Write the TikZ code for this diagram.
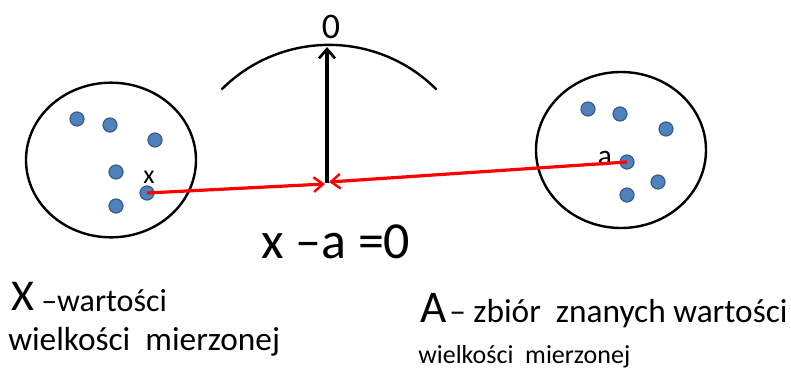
\documentclass[tikz,border=0pt]{standalone}
\usepackage{fontspec}
\setmainfont{Carlito}
\usetikzlibrary{arrows.meta,shapes.geometric}
\definecolor{dotfill}{HTML}{4F81BD}
\definecolor{dotline}{HTML}{385D8A}
\definecolor{linered}{HTML}{FF0000}
\newcommand{\fs}[1]{\fontsize{#1}{#1}\selectfont}
\begin{document}
\begin{tikzpicture}[x=0.75pt,y=-0.75pt,
  setshape/.style={ellipse,draw=black,line width=1.8pt,inner sep=0pt,minimum width=127.5pt,minimum height=116pt},
  dotnode/.style={circle,fill=dotfill,draw=dotline,line width=0.9pt,inner sep=0pt,minimum size=10.5pt},
  redarrow/.style={draw=linered,line width=2.4pt,-{Straight Barb[length=7pt,width=11pt,line width=1.8pt]}},
  blackarrow/.style={draw=black,line width=2.6pt,-{Straight Barb[length=7pt,width=12pt,line width=2pt]}},
  txt/.style={inner sep=0pt,anchor=base west}]
\useasboundingbox (0,0) rectangle (791,372);
\fill[white] (0,0) rectangle (791,372);
% sets
\node[setshape] (setX) at (111,160) {};
\node[setshape,minimum height=117pt] (setA) at (621,150) {};
% arc
\draw[line width=1.8pt] (221.5,89.5) .. controls (281,30) and (377,30) .. (436.5,89.5);
% dots left
\node[dotnode] (l1) at (77,119) {};
\node[dotnode] (l2) at (110,125) {};
\node[dotnode] (l3) at (155,140) {};
\node[dotnode] (l4) at (116,172) {};
\node[dotnode] (lx) at (147,193) {};
\node[dotnode] (l6) at (116,206) {};
% dots right
\node[dotnode] (r1) at (588,109) {};
\node[dotnode] (r2) at (620,114) {};
\node[dotnode] (r3) at (666,129) {};
\node[dotnode] (ra) at (627,162) {};
\node[dotnode] (r5) at (658,182) {};
\node[dotnode] (r6) at (627,195) {};
% labels
\node[inner sep=0pt,anchor=base] (labx) at (149,183) {\fs{19.5pt}x};
\node[inner sep=0pt,anchor=base] (laba) at (605,165) {\fs{22pt}a};
% arrows
\coordinate (base) at (327,183);
\coordinate (top) at (327,47);
\coordinate (tipL) at (325,184);
\coordinate (tipR) at (329,182);
\draw[blackarrow] (base) -- (top);
\draw[redarrow] (lx.center) -- (tipL);
\draw[redarrow] (ra.center) -- (tipR);
\node[inner sep=0pt,anchor=base] (zero) at (331,38) {\fs{27pt}0};
% texts
\node[txt] (eq) at (261,258) {\fs{39pt}x –a =0};
\node[txt] (bigX) at (11,310) {\fs{33pt}X};
\node[txt] (wart) at (41,311) {\fs{24pt}–wartości};
\node[txt] (wielL) at (8,350) {\fs{25pt}wielkości~ mierzonej};
\node[txt] (bigA) at (420,322) {\fs{34pt}A};
\node[txt] (zbior) at (449,322) {\fs{25pt}– zbiór~ znanych wartości};
\node[txt] (wielR) at (418,363) {\fs{19.5pt}wielkości~ mierzonej};
\end{tikzpicture}
\end{document}
